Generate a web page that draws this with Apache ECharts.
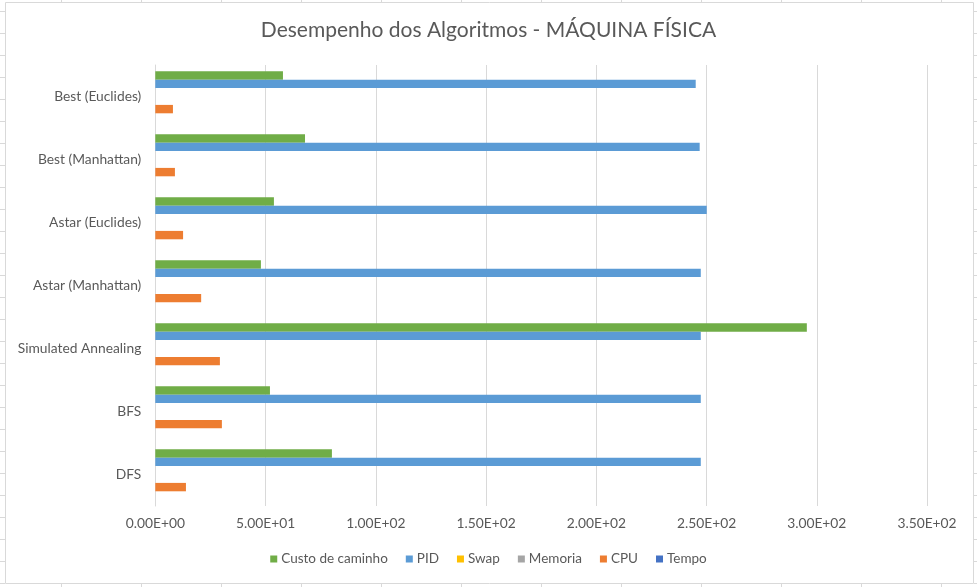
<!DOCTYPE html>
<html>
<head>
<meta charset="utf-8">
<script src="https://cdn.jsdelivr.net/npm/echarts@6/dist/echarts.min.js"></script>
<style>html,body{margin:0;padding:0;background:#fff;}#c{width:977px;height:587px;}</style>
</head>
<body>
<div id="c"></div>
<script>
const categories = ["DFS", "BFS", "Simulated Annealing", "Astar (Manhattan)", "Astar (Euclides)", "Best (Manhattan)", "Best (Euclides)"];
const tempo   = [0, 0, 0, 0, 0, 0, 0];
const cpu     = [13.9, 30.2, 29.3, 20.8, 12.6, 8.9, 8.0];
const memoria = [0, 0, 0, 0, 0, 0, 0];
const swap    = [0, 0, 0, 0, 0, 0, 0];
const pid     = [247.4, 247.4, 247.4, 247.4, 250.1, 246.9, 245.1];
const custo   = [80.1, 52.0, 295.5, 47.9, 53.8, 67.9, 57.9];
const xTicks = { min: 0, max: 350, interval: 50 };
const legendOrder = ["Custo de caminho", "PID", "Swap", "Memoria", "CPU", "Tempo"];

const FONT = "Lato";
const chart = echarts.init(document.getElementById('c'), null, {renderer: 'canvas'});

function sci(v) {
  const s = Number(v).toExponential(2).toUpperCase();
  const m = s.match(/^(-?[\d.]+)E([+-])(\d+)$/);
  return m[1] + 'E' + m[2] + (m[3].length < 2 ? '0' + m[3] : m[3]);
}

const seriesDefs = [
  { name: "Custo de caminho", data: custo, color: "#70AD47" },
  { name: "PID", data: pid, color: "#5B9BD5" },
  { name: "Swap", data: swap, color: "#FFC000" },
  { name: "Memoria", data: memoria, color: "#A5A5A5" },
  { name: "CPU", data: cpu, color: "#ED7D31" },
  { name: "Tempo", data: tempo, color: "#4472C4" }
];

// spreadsheet background lines (decoration)
const bg = [];
const gridCol = '#d9d9d9';
for (let y = 11; y < 587; y += 22) {
  bg.push({ type: 'line', shape: { x1: 0, y1: y + 0.5, x2: 5, y2: y + 0.5 }, style: { stroke: gridCol, lineWidth: 1 }, silent: true });
  bg.push({ type: 'line', shape: { x1: 974, y1: y + 0.5, x2: 977, y2: y + 0.5 }, style: { stroke: gridCol, lineWidth: 1 }, silent: true });
}
for (let x = 61; x < 977; x += 80) {
  bg.push({ type: 'line', shape: { x1: x + 0.5, y1: 0, x2: x + 0.5, y2: 2 }, style: { stroke: gridCol, lineWidth: 1 }, silent: true });
  bg.push({ type: 'line', shape: { x1: x + 0.5, y1: 584, x2: x + 0.5, y2: 587 }, style: { stroke: gridCol, lineWidth: 1 }, silent: true });
}
bg.push({ type: 'rect', shape: { x: 5.5, y: 2.5, width: 968, height: 581 }, style: { fill: 'none', stroke: gridCol, lineWidth: 1 }, silent: true, z: 10 });

chart.setOption({
  animation: false,
  backgroundColor: '#fff',
  textStyle: { fontFamily: FONT },
  graphic: bg,
  title: {
    text: "Desempenho dos Algoritmos - MÁQUINA FÍSICA",
    left: 'center', top: 15,
    textStyle: { fontFamily: FONT, fontSize: 21, fontWeight: 'normal', color: '#595959' }
  },
  legend: {
    data: legendOrder,
    bottom: 16, left: 'center',
    icon: 'rect', itemWidth: 7, itemHeight: 7, itemGap: 18,
    textStyle: { fontFamily: FONT, fontSize: 13.5, color: '#595959', padding: [0, 0, 0, -1] }
  },
  grid: { left: 155.3, right: 50, top: 65, bottom: 81, containLabel: false },
  xAxis: {
    type: 'value', min: xTicks.min, max: xTicks.max, interval: xTicks.interval,
    axisLine: { show: false }, axisTick: { show: false },
    splitLine: { show: true, lineStyle: { color: '#d9d9d9', width: 1 } },
    axisLabel: { formatter: sci, color: '#595959', fontSize: 13.8, fontFamily: FONT, margin: 11 }
  },
  yAxis: {
    type: 'category', data: categories,
    axisLine: { show: true, lineStyle: { color: '#d9d9d9' } }, axisTick: { show: false },
    axisLabel: { color: '#595959', fontSize: 13.8, fontFamily: FONT, margin: 14 }
  },
  series: seriesDefs.map(s => ({
    name: s.name, type: 'bar', data: s.data,
    itemStyle: { color: s.color },
    barGap: '0%', barCategoryGap: '20%'
  }))
});
</script>
</body>
</html>
